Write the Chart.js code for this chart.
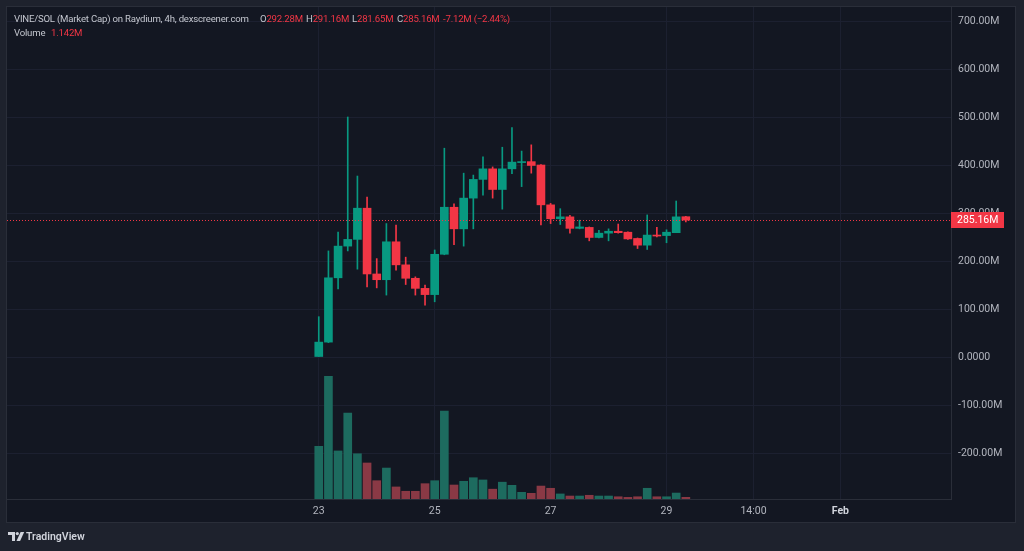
<!DOCTYPE html>
<html>
<head>
<meta charset="utf-8">
<script src="https://cdn.jsdelivr.net/npm/chart.js@4.4.1/dist/chart.umd.min.js"></script>
<style>
html,body{margin:0;padding:0;background:#1e222d;width:1024px;height:551px;overflow:hidden;font-family:Roboto,"Liberation Sans",sans-serif;}
#wrap{position:relative;width:1024px;height:551px;}
#c{position:absolute;left:0;top:0;}
.t{position:absolute;font-size:9.6px;letter-spacing:-0.2px;line-height:12px;white-space:nowrap;color:#c3c6ce;}
.r{color:#f23645;}
#logo{position:absolute;left:8px;top:532px;}
#tv{position:absolute;left:26px;top:531px;font-size:10.5px;font-weight:600;color:#d1d4dc;line-height:12px;}
</style>
</head>
<body>
<div id="wrap">
<canvas id="c" width="1024" height="551"></canvas>
<div class="t" style="left:14px;top:13px;">VINE/SOL (Market Cap) on Raydium, 4h, dexscreener.com</div>
<div class="t" style="left:260px;top:13px;">O<span class="r">292.28M</span></div>
<div class="t" style="left:306px;top:13px;">H<span class="r">291.16M</span></div>
<div class="t" style="left:352px;top:13px;">L<span class="r">281.65M</span></div>
<div class="t" style="left:397px;top:13px;">C<span class="r">285.16M</span></div>
<div class="t r" style="left:443px;top:13px;">-7.12M (−2.44%)</div>
<div class="t" style="left:14px;top:27px;">Volume</div>
<div class="t r" style="left:51px;top:27px;">1.142M</div>
<svg id="logo" width="17" height="10" viewBox="0 0 17 10">
  <path d="M0 0H7V9H4V3H0Z" fill="#d1d4dc"/>
  <circle cx="9.3" cy="1.6" r="1.6" fill="#d1d4dc"/>
  <path d="M8.5 9L12.6 0H16.2L12.1 9Z" fill="#d1d4dc"/>
</svg>
<div id="tv">TradingView</div>
</div>
<script>
// ---- data (4h candles, x in hours from Jan 23 00:00; prices & volume in millions) ----
const candleHours = [0,4,8,12,16,20,24,28,32,36,40,44,48,52,56,60,64,68,72,76,80,84,88,92,96,100,104,108,112,116,120,124,128,132,136,140,144,148,152];
const opens  = [0,31,165,231,245,310,173,161,240,192,164,143,130,214,312,267,331,370,392,349,392,405,407,400,317,288,292,268,270,249,258,262,260,247,233,254,253,259,292.28];
const highs  = [84,221,260,500,377,333,205,278,275,208,167,150,223,435,319,383,379,417,396,437,478,429,442,401,320,309,295,285,271,264,267,277,261,248,296,270,265,325,293];
const lows   = [0,30,142,221,183,146,144,129,181,151,129,108,115,213,234,231,267,337,331,308,382,355,383,275,278,276,258,267,242,248,242,258,245,226,224,250,238,259,281.65];
const closes = [31,165,231,245,310,173,161,240,192,164,143,130,214,312,267,331,370,392,349,392,406,407,399,317,288,292,268,271,249,258,262,259,246,233,254,252,260,292,285.16];
const volumes = [35.4,82.5,32.3,57.8,30.4,24.2,12.3,20.8,8.1,5.2,5.2,10.3,12.3,59.1,9.4,11.9,14.3,12.8,6.6,11.3,9.2,4.5,3.8,8.7,7.2,3.4,2.0,2.0,2.5,2.0,2.0,1.5,1.1,1.5,7.2,1.5,1.5,4.0,1.142];
const priceTicks = [-200,-100,0,100,200,300,400,500,600,700];
const priceTickLabels = ['-200.00M','-100.00M','0.0000','100.00M','200.00M','300.00M','400.00M','500.00M','600.00M','700.00M'];
const timeTicks = [0,48,96,144,180,216];
const timeTickLabels = ['23','25','27','29','14:00','Feb'];
const lastPrice = 285.16;
const lastPriceLabel = '285.16M';

// ---- styles ----
const UP = '#089981', DOWN = '#f23645';
const UP_VOL = '#1d6b5f', DOWN_VOL = '#8a3945';
const GRID = '#1c2030', BORDER = '#2a2e39', TEXT = '#b2b5be';
const isUp = i => closes[i] >= opens[i];

const panelPlugin = {
  id: 'panel',
  beforeDraw(chart) {
    const ctx = chart.ctx;
    ctx.save();
    ctx.fillStyle = '#1e222d';
    ctx.fillRect(0, 0, chart.width, chart.height);
    ctx.fillStyle = '#131722';
    ctx.fillRect(6, 6, 1010, 517);
    ctx.strokeStyle = BORDER;
    ctx.lineWidth = 1;
    ctx.strokeRect(6.5, 6.5, 1009, 516);
    ctx.restore();
  }
};

const priceLinePlugin = {
  id: 'priceLine',
  afterDatasetsDraw(chart) {
    const ctx = chart.ctx, a = chart.chartArea;
    const y = Math.round(chart.scales.y.getPixelForValue(lastPrice)) + 0.5;
    ctx.save();
    ctx.strokeStyle = DOWN;
    ctx.lineWidth = 1;
    ctx.setLineDash([1, 2]);
    ctx.beginPath();
    ctx.moveTo(a.left, y);
    ctx.lineTo(a.right, y);
    ctx.stroke();
    ctx.restore();
  },
  afterDraw(chart) {
    const ctx = chart.ctx, a = chart.chartArea;
    const y = chart.scales.y.getPixelForValue(lastPrice);
    ctx.save();
    ctx.fillStyle = DOWN;
    ctx.fillRect(a.right, Math.round(y) - 8, 53, 16);
    ctx.fillStyle = '#ffffff';
    ctx.font = '10.5px Roboto, "Liberation Sans", sans-serif';
    ctx.textBaseline = 'middle';
    ctx.textAlign = 'left';
    ctx.fillText(lastPriceLabel, a.right + 6, Math.round(y) + 0.5);
    ctx.restore();
  }
};

new Chart(document.getElementById('c'), {
  type: 'bar',
  data: {
    datasets: [
      {
        label: 'Volume',
        yAxisID: 'yv',
        data: candleHours.map((h, i) => ({ x: h, y: volumes[i] })),
        backgroundColor: candleHours.map((h, i) => isUp(i) ? UP_VOL : DOWN_VOL),
        barThickness: 8,
        grouped: false,
        order: 3
      },
      {
        label: 'Wicks',
        yAxisID: 'y',
        data: candleHours.map((h, i) => ({ x: h, y: [lows[i], highs[i]] })),
        backgroundColor: candleHours.map((h, i) => isUp(i) ? UP : DOWN),
        barThickness: 1,
        grouped: false,
        order: 2
      },
      {
        label: 'Bodies',
        yAxisID: 'y',
        data: candleHours.map((h, i) => ({ x: h, y: [opens[i], closes[i]] })),
        backgroundColor: candleHours.map((h, i) => isUp(i) ? UP : DOWN),
        barThickness: 8,
        minBarLength: 1,
        grouped: false,
        order: 1
      }
    ]
  },
  options: {
    responsive: false,
    animation: false,
    layout: { padding: { left: 7, top: 7, right: 8, bottom: 28 } },
    plugins: { legend: { display: false }, tooltip: { enabled: false } },
    scales: {
      x: {
        type: 'linear',
        min: -129.1,
        max: 261.8,
        offset: false,
        grid: { color: GRID, offset: false, drawTicks: false },
        border: { color: BORDER },
        afterBuildTicks: s => { s.ticks = timeTicks.map(v => ({ value: v })); },
        afterFit: s => { s.height = 24; s.paddingLeft = 0; s.paddingRight = 0; },
        ticks: {
          autoSkip: false,
          maxRotation: 0,
          padding: 6,
          color: ctx => (ctx.index === 5 ? '#d1d4dc' : TEXT),
          font: ctx => ({ size: 10.5, family: 'Roboto, "Liberation Sans", sans-serif', weight: ctx.index === 5 ? 'bold' : 'normal' }),
          callback: (v, i) => timeTickLabels[i]
        }
      },
      y: {
        type: 'linear',
        position: 'right',
        min: -295.83,
        max: 729.17,
        grid: { color: GRID, drawTicks: false },
        border: { color: BORDER },
        afterBuildTicks: s => { s.ticks = priceTicks.map(v => ({ value: v })); },
        afterFit: s => { s.width = 65; s.paddingTop = 0; s.paddingBottom = 0; },
        ticks: {
          padding: 7,
          color: TEXT,
          font: { size: 10.5, family: 'Roboto, "Liberation Sans", sans-serif' },
          callback: (v, i) => priceTickLabels[i]
        }
      },
      yv: {
        type: 'linear',
        display: false,
        min: 0,
        max: 330.6,
        grid: { display: false }
      }
    }
  },
  plugins: [panelPlugin, priceLinePlugin]
});
</script>
</body>
</html>
